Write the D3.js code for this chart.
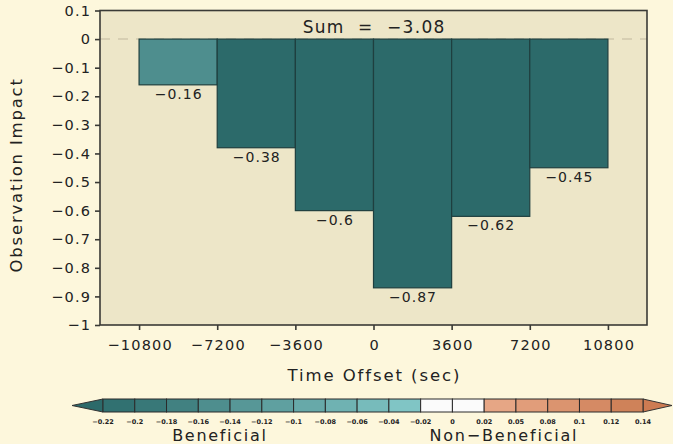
<!DOCTYPE html>
<html>
<head>
<meta charset="utf-8">
<script src="https://cdn.jsdelivr.net/npm/d3@7"></script>
<style>
  html, body { margin: 0; padding: 0; background: #fdf7dc; }
  svg { display: block; font-family: "DejaVu Sans", sans-serif; }
</style>
</head>
<body>
<svg id="chart" width="673" height="444"></svg>
<script>
// Impact per time-offset bin (bins start at these offsets, each 3600 s wide)
const binStarts = [-10800, -7200, -3600, 0, 3600, 7200];
const binWidth = 3600;
const impacts = [-0.16, -0.38, -0.6, -0.87, -0.62, -0.45];
const sumText = "Sum  =  \u22123.08";

const xTicks = [-10800, -7200, -3600, 0, 3600, 7200, 10800];
const yTicks = [0.1, 0, -0.1, -0.2, -0.3, -0.4, -0.5, -0.6, -0.7, -0.8, -0.9, -1];

// Colour bar levels and fills (below-range, 17 boxes, above-range)
const levels = [-0.22, -0.2, -0.18, -0.16, -0.14, -0.12, -0.1, -0.08, -0.06, -0.04, -0.02, 0, 0.02, 0.05, 0.08, 0.1, 0.12, 0.14];
const levelLabels = ["-0.22", "-0.2", "-0.18", "-0.16", "-0.14", "-0.12", "-0.1", "-0.08", "-0.06", "-0.04", "-0.02", "0", "0.02", "0.05", "0.08", "0.1", "0.12", "0.14"];
const levelColors = ["#2c6a6a", "#317171", "#387878", "#418181", "#4e8e8e", "#579797", "#5fa0a0", "#67a9a9", "#6fb2b2", "#77bbbb", "#80c5c5",
                     "#fbfbfb", "#fbfbfb",
                     "#e6a685", "#e19d7a", "#db946f", "#d58a64", "#cf8259", "#cd7b52"];

const svg = d3.select("#chart");
const W = 673, H = 444;
const m = { left: 100, top: 10.5, right: 26, bottom: 119 };
const pw = W - m.left - m.right, ph = H - m.top - m.bottom;
const ink = "#222";

const x = d3.scaleLinear().domain([-12600, 12600]).range([m.left, m.left + pw]);
const y = d3.scaleLinear().domain([-1, 0.1]).range([m.top + ph, m.top]);
const color = d3.scaleThreshold().domain(levels).range(levelColors);

// centred text with letter spacing (trailing gap compensated)
function label(sel, size, spacing) {
  return sel.attr("font-size", size).attr("fill", ink)
    .attr("letter-spacing", spacing).attr("dx", spacing / 2)
    .attr("text-anchor", "middle");
}

// plot background
svg.append("rect")
  .attr("x", m.left).attr("y", m.top).attr("width", pw).attr("height", ph)
  .attr("fill", "#ede6c8");

// zero reference line
svg.append("line")
  .attr("x1", m.left).attr("x2", m.left + pw)
  .attr("y1", y(0)).attr("y2", y(0))
  .attr("stroke", "#cfc7ac").attr("stroke-width", 1.5)
  .attr("stroke-dasharray", "10,8");

const bins = binStarts.map((s, i) => ({ s, v: impacts[i] }));

// bars
svg.append("g").selectAll("rect")
  .data(bins)
  .join("rect")
  .attr("x", d => x(d.s))
  .attr("width", d => x(d.s + binWidth) - x(d.s))
  .attr("y", y(0))
  .attr("height", d => y(d.v) - y(0))
  .attr("fill", d => color(d.v))
  .attr("stroke", "#1f3f3f").attr("stroke-width", 1.2);

// value labels under each bar
svg.append("g").selectAll("text")
  .data(bins)
  .join("text")
  .attr("x", d => x(d.s + binWidth / 2))
  .attr("y", d => y(d.v) + 14)
  .call(label, 14, 1)
  .text(d => d3.format("~g")(d.v));

// sum
svg.append("text")
  .attr("x", x(0)).attr("y", 33)
  .call(label, 17, 1.3)
  .style("white-space", "pre")
  .text(sumText);

// frame
svg.append("rect")
  .attr("x", m.left).attr("y", m.top).attr("width", pw).attr("height", ph)
  .attr("fill", "none").attr("stroke", "#3a3a36").attr("stroke-width", 1.6);

// axes
const yAxis = svg.append("g")
  .attr("transform", `translate(${m.left},0)`)
  .call(d3.axisLeft(y).tickValues(yTicks).tickSize(5).tickPadding(5).tickFormat(d3.format("~g")));
const xAxis = svg.append("g")
  .attr("transform", `translate(0,${m.top + ph})`)
  .call(d3.axisBottom(x).tickValues(xTicks).tickSize(5).tickPadding(10).tickFormat(d3.format("d")));
[yAxis, xAxis].forEach(g => {
  g.select(".domain").remove();
  g.selectAll(".tick line").attr("stroke", "#3a3a36").attr("stroke-width", 1.6);
  g.selectAll(".tick text").attr("font-size", 14.5).attr("fill", ink)
    .attr("font-family", "DejaVu Sans, sans-serif").attr("letter-spacing", 1.2);
});
yAxis.selectAll(".tick text").attr("dx", 1.2);
xAxis.selectAll(".tick text").attr("dx", 0.6);

// axis titles
svg.append("text")
  .attr("transform", `translate(22,${m.top + ph / 2 + 8}) rotate(-90)`)
  .call(label, 16.5, 1.8)
  .text("Observation Impact");
svg.append("text")
  .attr("x", x(0)).attr("y", 381)
  .call(label, 16.5, 1.9)
  .text("Time Offset (sec)");

// colour bar
const cb = { x0: 103, x1: 643, y0: 399, y1: 412, tipL: 72, tipR: 672 };
const cbx = d3.scaleLinear().domain([0, levels.length - 1]).range([cb.x0, cb.x1]);
const cbar = svg.append("g");
const mid = (cb.y0 + cb.y1) / 2;
cbar.append("path")
  .attr("d", `M${cb.x0},${cb.y0}L${cb.tipL},${mid}L${cb.x0},${cb.y1}Z`)
  .attr("fill", levelColors[0]).attr("stroke", "#333").attr("stroke-width", 1);
cbar.append("path")
  .attr("d", `M${cb.x1},${cb.y0}L${cb.tipR},${mid}L${cb.x1},${cb.y1}Z`)
  .attr("fill", levelColors[levelColors.length - 1]).attr("stroke", "#333").attr("stroke-width", 1);
cbar.selectAll("rect")
  .data(d3.range(levels.length - 1))
  .join("rect")
  .attr("x", i => cbx(i)).attr("width", i => cbx(i + 1) - cbx(i))
  .attr("y", cb.y0).attr("height", cb.y1 - cb.y0)
  .attr("fill", i => levelColors[i + 1])
  .attr("stroke", "#2a2a2a").attr("stroke-width", 1);
cbar.selectAll("text")
  .data(levelLabels)
  .join("text")
  .attr("x", (d, i) => cbx(i)).attr("y", 424)
  .attr("text-anchor", "middle")
  .attr("font-size", 6.5).attr("font-weight", "bold").attr("fill", ink)
  .text(d => d.replace("-", "\u2212"));

svg.append("text")
  .attr("x", 219).attr("y", 441)
  .call(label, 16, 1.7)
  .text("Beneficial");
svg.append("text")
  .attr("x", 503).attr("y", 441)
  .call(label, 16, 1.8)
  .text("Non\u2212Beneficial");
</script>
</body>
</html>
